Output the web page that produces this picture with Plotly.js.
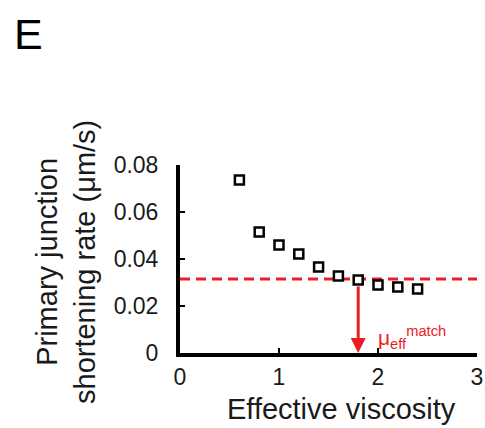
<!DOCTYPE html>
<html>
<head>
<meta charset="utf-8">
<script src="https://cdn.plot.ly/plotly-3.0.1.min.js"></script>
<style>
  html, body { margin: 0; padding: 0; background: #fff; }
  #chart { width: 485px; height: 428px; }
</style>
</head>
<body>
<div id="chart"></div>
<script>
// Primary junction shortening rate versus effective viscosity
const viscosity = [0.6, 0.8, 1.0, 1.2, 1.4, 1.6, 1.8, 2.0, 2.2, 2.4];
const shorteningRate = [0.0736, 0.0515, 0.0460, 0.0421, 0.0366, 0.0328, 0.0311, 0.0289, 0.0281, 0.0272];

// Target rate (dashed line) and the matching viscosity (arrow)
const targetRate = 0.0315;
const matchViscosity = 1.8;

const xTicks = [0, 1, 2, 3];
const xTickText = ['0', '1', '2', '3'];
const yTicks = [0, 0.02, 0.04, 0.06, 0.08];
const yTickText = ['0', '0.02', '0.04', '0.06', '0.08'];

const RED = '#ed1c24';
const INK = '#1a1a1a';
const FONT = 'Liberation Sans, Arial, Helvetica, sans-serif';

// plot area in pixels, used to place the free-standing labels
const M = { l: 180, r: 8, t: 165, b: 75 };
const W = 485, H = 428;
const PW = W - M.l - M.r, PH = H - M.t - M.b;
const px = (x) => (x - M.l) / PW;
const py = (y) => (H - M.b - y) / PH;

const trace = {
  x: viscosity,
  y: shorteningRate,
  type: 'scatter',
  mode: 'markers',
  marker: {
    symbol: 'square',
    size: 9,
    color: '#ffffff',
    line: { color: '#000000', width: 2.5 }
  },
  hoverinfo: 'skip',
  cliponaxis: false
};

const axisCommon = {
  ticks: 'inside',
  ticklen: 5,
  tickwidth: 2,
  tickcolor: '#000',
  showline: true,
  linecolor: '#000',
  linewidth: 4,
  showgrid: false,
  zeroline: false,
  tickfont: { size: 23, family: FONT, color: INK }
};

const layout = {
  width: W,
  height: H,
  margin: M,
  paper_bgcolor: '#ffffff',
  plot_bgcolor: '#ffffff',
  showlegend: false,
  font: { family: FONT, color: INK },
  xaxis: Object.assign({}, axisCommon, {
    range: [0, 3],
    tickvals: xTicks,
    ticktext: xTickText,
    ticklabelstandoff: 0
  }),
  yaxis: Object.assign({}, axisCommon, {
    range: [0, 0.08],
    tickvals: yTicks,
    ticktext: yTickText,
    ticklabelstandoff: 13
  }),
  shapes: [
    {
      type: 'line', xref: 'x', yref: 'y',
      x0: 0, x1: 3, y0: targetRate, y1: targetRate,
      line: { color: RED, width: 3, dash: '10px,6px' },
      layer: 'below'
    }
  ],
  annotations: [
    {
      // arrow from the matching point down to the viscosity axis
      x: matchViscosity, y: 0, xref: 'x', yref: 'y',
      ax: matchViscosity, ay: targetRate, axref: 'x', ayref: 'y',
      showarrow: true, arrowhead: 2, arrowsize: 1, arrowwidth: 3,
      arrowcolor: RED, startstandoff: 6, text: ''
    },
    {
      x: 1.98, y: 0.0068, xref: 'x', yref: 'y',
      xanchor: 'left', yanchor: 'middle', showarrow: false,
      text: 'μ<sub>eff</sub><sup>match</sup>',
      font: { size: 21, family: FONT, color: RED }
    },
    {
      // x-axis title
      xref: 'paper', yref: 'paper', x: px(341.5), y: py(409),
      xanchor: 'center', yanchor: 'middle', showarrow: false,
      text: 'Effective viscosity',
      font: { size: 29, family: FONT, color: INK }
    },
    {
      // y-axis title
      xref: 'paper', yref: 'paper', x: px(66), y: py(262),
      xanchor: 'center', yanchor: 'middle', showarrow: false,
      textangle: -90,
      text: 'Primary junction<br>shortening rate (μm/s)',
      font: { size: 29, family: FONT, color: INK }
    },
    {
      // panel letter
      xref: 'paper', yref: 'paper', x: px(12), y: py(8),
      xanchor: 'left', yanchor: 'top', showarrow: false,
      text: 'E',
      font: { size: 43, family: FONT, color: '#000' }
    }
  ]
};

Plotly.newPlot('chart', [trace], layout, { displayModeBar: false, staticPlot: true });
</script>
</body>
</html>
